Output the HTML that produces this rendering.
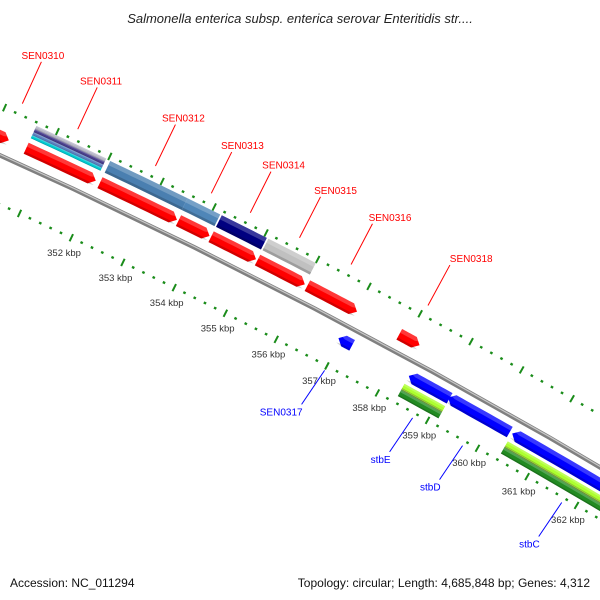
<!DOCTYPE html>
<html><head><meta charset="utf-8"><title>Genome map</title>
<style>html,body{margin:0;padding:0;background:#fff;overflow:hidden}svg{display:block}text{font-family:"Liberation Sans",sans-serif}</style>
</head><body>
<svg id="map" width="600" height="600" viewBox="0 0 600 600" xmlns="http://www.w3.org/2000/svg">
<rect width="600" height="600" fill="#fff"/>
<text x="300" y="23" text-anchor="middle" font-size="13" font-style="italic" fill="#222">Salmonella enterica subsp. enterica serovar Enteritidis str....</text>
<g id="ticks"></g>
<g id="backbone"></g>
<g id="features"></g>
<g id="labels"></g>
<text x="10" y="587" font-size="12" fill="#111">Accession: NC_011294</text>
<text x="590" y="587" text-anchor="end" font-size="12" fill="#111">Topology: circular; Length: 4,685,848 bp; Genes: 4,312</text>
</svg>
<script>
// data (kbp)
const fwdStarts = [349.0, 350.63, 352.04, 353.55, 354.18, 355.08, 356.05, 357.85];
const fwdEnds   = [350.3, 351.96, 353.52, 354.15, 355.05, 356.0, 357.02, 358.25];
const fwdNames  = ["SEN0310","SEN0311","SEN0312","SEN0313","SEN0314","SEN0315","SEN0316","SEN0318"];
const fwdLabelAt = [350.25, 351.3, 352.78, 353.85, 354.6, 355.55, 356.55, 358.05];
const revStarts = [356.95, 358.34, 359.12, 360.4];
const revEnds   = [357.22, 359.15, 360.35, 363.0];
const revNames  = ["SEN0317","stbE","stbD","stbC"];
const revLabelAt = [357.0, 358.75, 359.75, 361.75];
const cogFwdStarts = [352.04, 353.52, 354.18, 355.08];
const cogFwdEnds   = [353.52, 354.15, 355.05, 356.0];
const cogFwdColors = ["#4a7fb0","#4f86b8","#000080","#c0c0c0"];
const cogStripeStart = 350.63, cogStripeEnd = 351.96;
const cogRevStarts = [358.34, 360.4];
const cogRevEnds   = [359.15, 363.0];
const tickLabels = [352,353,354,355,356,357,358,359,360,361,362];

const NS="http://www.w3.org/2000/svg";
const P1=[0,155],P2=[300,301],P3=[600,467];
function circ(a,b,c){const d=2*(a[0]*(b[1]-c[1])+b[0]*(c[1]-a[1])+c[0]*(a[1]-b[1]));
 const ux=((a[0]**2+a[1]**2)*(b[1]-c[1])+(b[0]**2+b[1]**2)*(c[1]-a[1])+(c[0]**2+c[1]**2)*(a[1]-b[1]))/d;
 const uy=((a[0]**2+a[1]**2)*(c[0]-b[0])+(b[0]**2+b[1]**2)*(a[0]-c[0])+(c[0]**2+c[1]**2)*(b[0]-a[0]))/d;
 return [ux,uy,Math.hypot(a[0]-ux,a[1]-uy)];}
const [cx,cy,R]=circ(P1,P2,P3);
const S=57.6;
const y357=cy-Math.sqrt(R*R-(348-cx)**2);
const A0=Math.atan2(y357-cy,348-cx);
function pt(k,d){const a=A0+(k-357)*S/R;return [cx+(R+d)*Math.cos(a),cy+(R+d)*Math.sin(a)];}
function mk(tag,attrs,parent){const e=document.createElementNS(NS,tag);for(const k in attrs)e.setAttribute(k,attrs[k]);parent.appendChild(e);return e;}
function arcPath(k1,k2,d){let s="";for(let i=0;i<=12;i++){const p=pt(k1+(k2-k1)*i/12,d);s+=(i?"L":"M")+p[0].toFixed(2)+","+p[1].toFixed(2);}return s;}
function band(k1,k2,d1,d2,dir){
 const ah=0.11;const pts=[];const n=10;
 let a1=k1,a2=k2;if(dir===1)a2=Math.max(k1,k2-ah);if(dir===-1)a1=Math.min(k2,k1+ah);
 for(let i=0;i<=n;i++)pts.push(pt(a1+(a2-a1)*i/n,d2));
 if(dir===1)pts.push(pt(k2,(d1+d2)/2));
 for(let i=n;i>=0;i--)pts.push(pt(a1+(a2-a1)*i/n,d1));
 if(dir===-1)pts.push(pt(k1,(d1+d2)/2));
 return pts.map(p=>p[0].toFixed(2)+","+p[1].toFixed(2)).join(" ");}
function feature(k1,k2,d1,d2,dir,color,g){
 const e=mk("polygon",{points:band(k1,k2,d1,d2,dir),fill:color},g);
 
 
 const h=mk("polygon",{points:band(k1,k2,d2-(d2-d1)*0.35,d2,dir),fill:"#fff","fill-opacity":"0.22"},g);
 
 
 const s=mk("polygon",{points:band(k1,k2,d1,d1+(d2-d1)*0.2,dir),fill:"#000","fill-opacity":"0.18"},g);
 
 }

const bb=document.getElementById("backbone");
const b1=mk("path",{d:arcPath(340,368,0),stroke:"#808080","stroke-width":4.5,fill:"none"},bb);


const b2=mk("path",{d:arcPath(340,368,0.8),stroke:"#c8c8c8","stroke-width":1.2,fill:"none"},bb);



const tg=document.getElementById("ticks");
for(const ring of [45,-45]){
 for(let i=0;i<=80;i++){const k=348+i*0.2;const major=(i%5===0);
  const L=major?4:1.2;const a=pt(k,ring-L),b=pt(k,ring+L);
  const t=mk("line",{x1:a[0],y1:a[1],x2:b[0],y2:b[1],stroke:"#1a8c1a","stroke-width":major?2:2.6},tg);
  
  }}
for(const k of tickLabels){const p=pt(k,-62);
 const t=mk("text",{x:p[0],y:p[1]+3,"text-anchor":"middle","font-size":"9.5",fill:"#333"},tg);
 t.textContent=k+" kbp";
 
 }

const fg=document.getElementById("features");
for(let i=0;i<fwdStarts.length;i++)feature(fwdStarts[i],fwdEnds[i],11,23,1,"#ff0000",fg);
for(let i=0;i<revStarts.length;i++)feature(revStarts[i],revEnds[i],-21,-9,-1,"#0000ff",fg);
for(let i=0;i<cogFwdStarts.length;i++)feature(cogFwdStarts[i],cogFwdEnds[i],28,41,0,cogFwdColors[i],fg);
const stripeCols=["#00c8d0","#5a7fc0","#483d8b","#b8b8c8"];
for(let i=0;i<4;i++)feature(cogStripeStart,cogStripeEnd,28+i*3.4,31.4+i*3.4,0,stripeCols[i],fg);
for(let i=0;i<cogRevStarts.length;i++){
 feature(cogRevStarts[i],cogRevEnds[i],-38,-31,0,"#228b22",fg);
 feature(cogRevStarts[i],cogRevEnds[i],-31,-30,0,"#6b8e23",fg);
 feature(cogRevStarts[i],cogRevEnds[i],-30,-24,0,"#adff2f",fg);}

const lg=document.getElementById("labels");
for(let i=0;i<fwdStarts.length;i++){const k=fwdLabelAt[i];
 const a=pt(k,56),b=pt(k,102);
 const l=mk("line",{x1:a[0],y1:a[1],x2:b[0],y2:b[1],stroke:"#ff0000","stroke-width":1},lg);
 
 
 const off=-20+(b[0]-40)*20/412;
 const t=mk("text",{x:b[0]+off,y:b[1]-3,"font-size":"10",fill:"#ff0000"},lg);
 t.textContent=fwdNames[i];
 
 }
for(let i=0;i<revStarts.length;i++){const k=revLabelAt[i];
 const a=pt(k,-50);const b=[a[0]-23,a[1]+34];
 const l=mk("line",{x1:a[0],y1:a[1],x2:b[0],y2:b[1],stroke:"#0000ff","stroke-width":1},lg);
 
 
 const t=mk("text",{x:b[0]+1,y:b[1]+11,"text-anchor":"end","font-size":"10",fill:"#0000ff"},lg);
 t.textContent=revNames[i];
 
 }
</script>
</body></html>
